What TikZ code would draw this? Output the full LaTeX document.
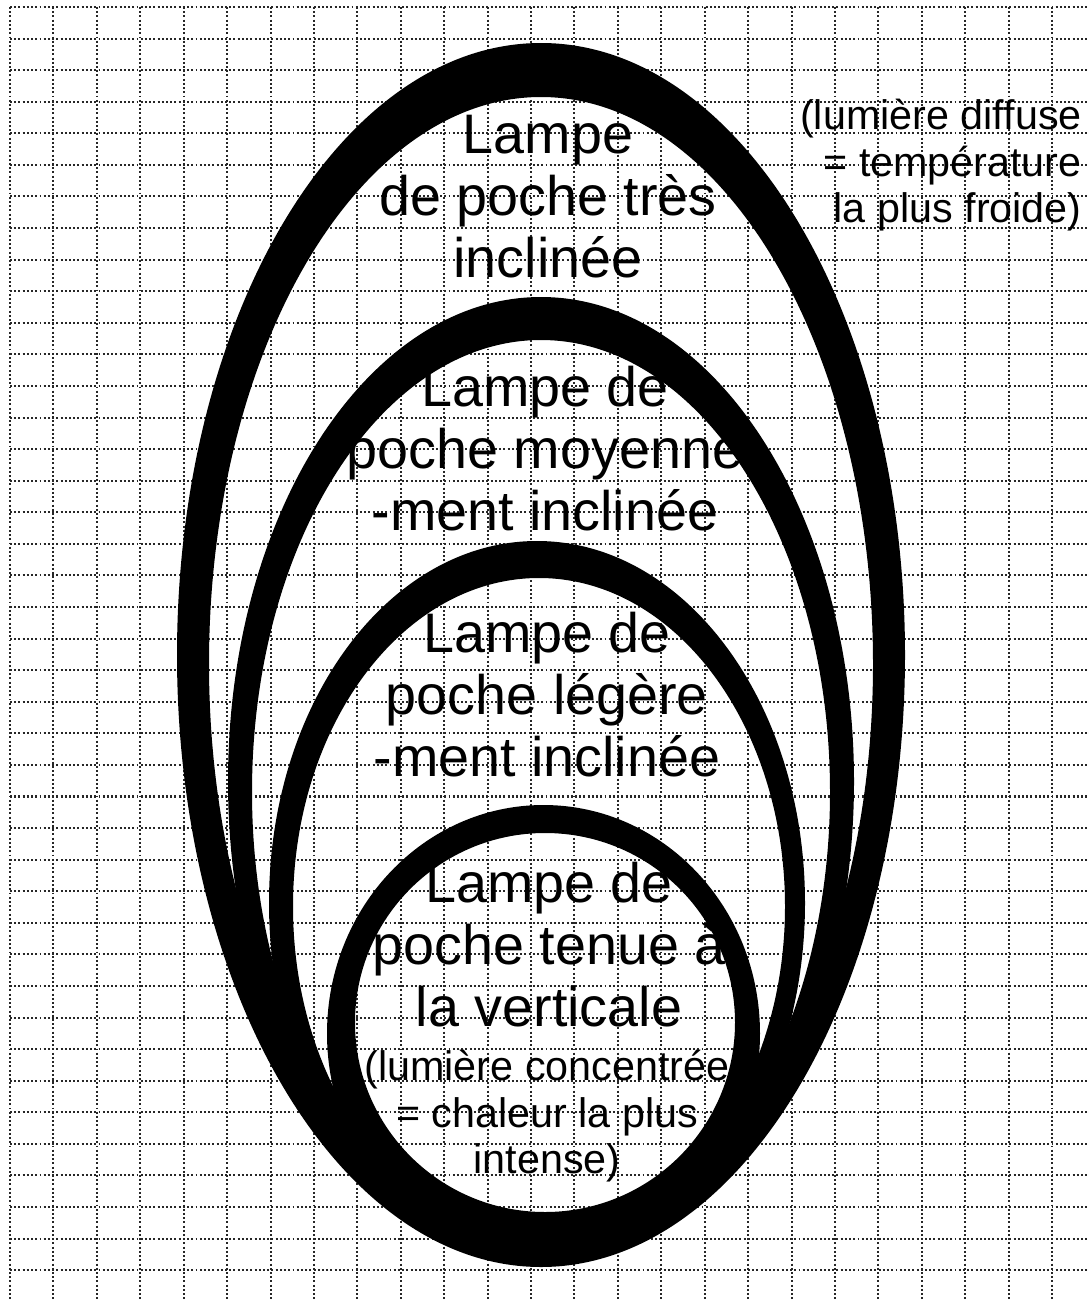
\documentclass[tikz,border=0pt]{standalone}
\usepackage{fontspec}
\setmainfont{Liberation Sans}
\usetikzlibrary{positioning}

\tikzset{
  gridline/.style={black!85, line width=1.15pt, dash pattern=on 1.1pt off 1.3pt},
  ring/.style={fill=black, even odd rule},
  bigtext/.style={align=center, inner sep=0pt, font=\fontsize{31.7}{35.2}\selectfont},
  smalltext/.style={inner sep=0pt, font=\fontsize{23.5}{26.5}\selectfont}
}

\begin{document}
\begin{tikzpicture}[x=0.02cm, y=-0.02cm]
        \useasboundingbox (0,0) rectangle (1088,1301);
        \fill [white] (0,0) rectangle (1088,1301);
        % squared paper
        \foreach \i in {0,...,24}
            \draw [gridline] ({10+43.42*\i},7) -- ({10+43.42*\i},1301);
        \foreach \j in {0,...,40}
            \draw [gridline] (10,{7+31.58*\j}) -- (1088,{7+31.58*\j});
        % light rings, from the widest to the narrowest
        \fill [ring] (541,655) ellipse [x radius=364, y radius=612]
                     (541,664) ellipse [x radius=332, y radius=567];
        \fill [ring] (541,781.5) ellipse [x radius=313, y radius=484.5]
                     (541,792) ellipse [x radius=289, y radius=452];
        \fill [ring] (537,903) ellipse [x radius=268, y radius=362]
                     (539,906.5) ellipse [x radius=246, y radius=328.5];
        \fill [ring] (543.5,1033.5) ellipse [x radius=216.5, y radius=228.5]
                     (545,1022.5) ellipse [x radius=190, y radius=189.5];
        % labels
        \node [bigtext, anchor=north] (tres) at (548,115) {Lampe\\de poche très\\inclinée};
        \node [bigtext, anchor=north] (moyen) at (545,366) {Lampe de\\poche moyenne\\-ment inclinée};
        \node [bigtext, anchor=north] (leger) at (547,612) {Lampe de\\poche légère\\-ment inclinée};
        \node [bigtext, anchor=north] (vertic) at (549,862) {Lampe de\\poche tenue à\\la verticale};
        \node [smalltext, align=center, anchor=north] (chaud) at (547,1050)
            {(lumière concentrée\\= chaleur la plus\\intense)};
        \node [smalltext, align=right, anchor=north east] (froid) at (1082,99)
            {(lumière diffuse\\= température\\la plus froide)};
\end{tikzpicture}
\end{document}
